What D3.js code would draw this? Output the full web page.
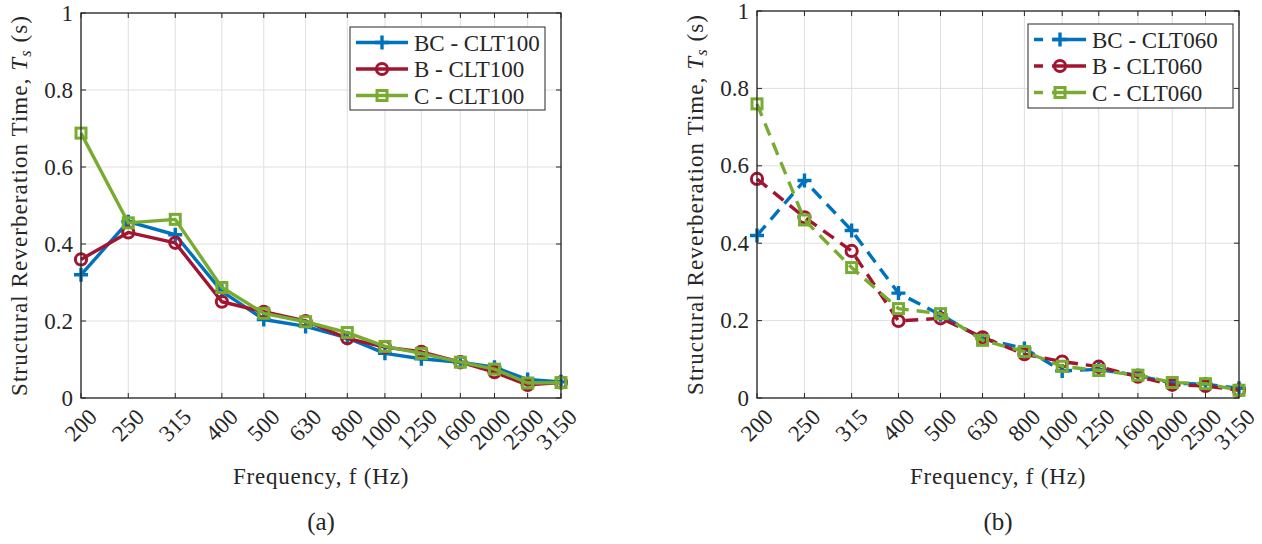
<!DOCTYPE html>
<html>
<head>
<meta charset="utf-8">
<script src="https://cdn.jsdelivr.net/npm/d3@7"></script>
<style>
  body { margin: 0; background: #fff; }
  svg text { font-family: "Liberation Serif", "Times New Roman", serif; fill: #262626; }
</style>
</head>
<body>
<svg id="chart" width="1262" height="544"></svg>
<script>
// data
var freqs = [200, 250, 315, 400, 500, 630, 800, 1000, 1250, 1600, 2000, 2500, 3150];
var freqLabels = ['200', '250', '315', '400', '500', '630', '800', '1000', '1250', '1600', '2000', '2500', '3150'];
var yTicks = [0, 0.2, 0.4, 0.6, 0.8, 1];
var yTickLabels = ['0', '0.2', '0.4', '0.6', '0.8', '1'];

var bcCLT100 = [0.32, 0.458, 0.424, 0.277, 0.204, 0.186, 0.156, 0.116, 0.102, 0.093, 0.08, 0.048, 0.042];
var bCLT100  = [0.36, 0.43, 0.403, 0.25, 0.224, 0.2, 0.155, 0.132, 0.12, 0.093, 0.067, 0.034, 0.04];
var cCLT100  = [0.688, 0.455, 0.464, 0.287, 0.22, 0.198, 0.17, 0.134, 0.116, 0.093, 0.075, 0.039, 0.04];

var bcCLT060 = [0.42, 0.562, 0.433, 0.271, 0.215, 0.153, 0.128, 0.07, 0.074, 0.058, 0.038, 0.036, 0.025];
var bCLT060  = [0.566, 0.467, 0.38, 0.199, 0.206, 0.157, 0.113, 0.094, 0.081, 0.055, 0.034, 0.031, 0.02];
var cCLT060  = [0.76, 0.46, 0.337, 0.231, 0.218, 0.149, 0.12, 0.082, 0.071, 0.059, 0.04, 0.037, 0.02];

var names100 = ['BC - CLT100', 'B - CLT100', 'C - CLT100'];
var names060 = ['BC - CLT060', 'B - CLT060', 'C - CLT060'];
var colors = ['#0072BD', '#A2142F', '#77AC30'];
var markers = ['plus', 'circle', 'square'];

var svg = d3.select('#chart');
var axisColor = '#262626';
var gridColor = '#dfdfdf';
var fs = 23;

function drawMarker(g, type, x, y, color) {
  if (type === 'plus') {
    g.append('path')
      .attr('d', 'M' + (x - 7) + ',' + y + 'H' + (x + 7) + 'M' + x + ',' + (y - 7) + 'V' + (y + 7))
      .attr('stroke', color).attr('stroke-width', 3.4).attr('fill', 'none');
  } else if (type === 'circle') {
    g.append('circle').attr('cx', x).attr('cy', y).attr('r', 5.6)
      .attr('stroke', color).attr('stroke-width', 3).attr('fill', 'none');
  } else {
    g.append('rect').attr('x', x - 5).attr('y', y - 5).attr('width', 10).attr('height', 10)
      .attr('stroke', color).attr('stroke-width', 3).attr('fill', 'none');
  }
}

function drawPanel(opts) {
  var g = svg.append('g');
  var x = d3.scaleLog().domain([Math.log(200), Math.log(3150)]).range([opts.x0, opts.x1]);
  var y = d3.scaleLinear().domain([0, 1]).range([opts.y1, opts.y0]);
  var fx = function (f) { return x(Math.log(f)); };

  // grid
  g.selectAll('.vgrid').data(freqs).join('line')
    .attr('x1', fx).attr('x2', fx).attr('y1', opts.y0).attr('y2', opts.y1)
    .attr('stroke', gridColor).attr('stroke-width', 1);
  g.selectAll('.hgrid').data(yTicks).join('line')
    .attr('y1', y).attr('y2', y).attr('x1', opts.x0).attr('x2', opts.x1)
    .attr('stroke', gridColor).attr('stroke-width', 1);

  // ticks inward on all four sides
  var tk = 5;
  freqs.forEach(function (f) {
    g.append('line').attr('x1', fx(f)).attr('x2', fx(f)).attr('y1', opts.y1).attr('y2', opts.y1 - tk)
      .attr('stroke', axisColor);
    g.append('line').attr('x1', fx(f)).attr('x2', fx(f)).attr('y1', opts.y0).attr('y2', opts.y0 + tk)
      .attr('stroke', axisColor);
  });
  yTicks.forEach(function (v) {
    g.append('line').attr('x1', opts.x0).attr('x2', opts.x0 + tk).attr('y1', y(v)).attr('y2', y(v))
      .attr('stroke', axisColor);
    g.append('line').attr('x1', opts.x1).attr('x2', opts.x1 - tk).attr('y1', y(v)).attr('y2', y(v))
      .attr('stroke', axisColor);
  });

  // series
  var line = d3.line().x(function (d) { return fx(d[0]); }).y(function (d) { return y(d[1]); });
  opts.series.forEach(function (vals, i) {
    var pts = freqs.map(function (f, k) { return [f, vals[k]]; });
    g.append('path').datum(pts).attr('d', line)
      .attr('fill', 'none').attr('stroke', colors[i]).attr('stroke-width', 3.4)
      .attr('stroke-linejoin', 'round')
      .attr('stroke-dasharray', opts.dashed ? '13,8' : null);
    pts.forEach(function (p) { drawMarker(g, markers[i], fx(p[0]), y(p[1]), colors[i]); });
  });

  // box
  g.append('rect').attr('x', opts.x0).attr('y', opts.y0)
    .attr('width', opts.x1 - opts.x0).attr('height', opts.y1 - opts.y0)
    .attr('fill', 'none').attr('stroke', axisColor).attr('stroke-width', 1.3);

  // tick labels
  g.selectAll('.ylab').data(yTicks).join('text')
    .attr('x', opts.x0 - 8).attr('y', y).attr('dy', '0.33em')
    .attr('text-anchor', 'end').attr('font-size', fs)
    .text(function (d, i) { return yTickLabels[i]; });
  g.selectAll('.xlab').data(freqs).join('text')
    .attr('transform', function (d) { return 'translate(' + (fx(d) + 6) + ',' + (opts.y1 + 9) + ') rotate(-45)'; })
    .attr('dy', '0.7em').attr('text-anchor', 'end').attr('font-size', fs)
    .text(function (d, i) { return freqLabels[i]; });

  // axis titles
  var cx = (opts.x0 + opts.x1) / 2;
  g.append('text').attr('x', cx).attr('y', opts.y1 + 86).attr('text-anchor', 'middle')
    .attr('font-size', fs).attr('letter-spacing', 0.8).text('Frequency, f (Hz)');
  var yl = g.append('text')
    .attr('transform', 'translate(' + (opts.x0 - 54) + ',' + ((opts.y0 + opts.y1) / 2) + ') rotate(-90)')
    .attr('text-anchor', 'middle').attr('font-size', fs).attr('letter-spacing', 1.1);
  yl.append('tspan').text('Structural Reverberation Time, ');
  yl.append('tspan').attr('font-style', 'italic').text('T');
  yl.append('tspan').attr('font-style', 'italic').attr('font-size', 16).attr('dy', 4).text('s');
  yl.append('tspan').attr('dy', -4).text(' (s)');
  g.append('text').attr('x', cx).attr('y', 530).attr('text-anchor', 'middle')
    .attr('font-size', 25).text(opts.caption);

  // legend
  var L = opts.legend;
  g.append('rect').attr('x', L.x).attr('y', L.y).attr('width', L.w).attr('height', L.h)
    .attr('fill', '#fff').attr('stroke', axisColor).attr('stroke-width', 1);
  opts.names.forEach(function (name, i) {
    var ry = L.y + 15.5 + i * 26.5;
    g.append('line').attr('x1', L.x + 6).attr('x2', L.x + 58).attr('y1', ry).attr('y2', ry)
      .attr('stroke', colors[i]).attr('stroke-width', 3.4)
      .attr('stroke-dasharray', opts.dashed ? '9,9,40' : null);
    drawMarker(g, markers[i], L.x + 32, ry, colors[i]);
    g.append('text').attr('x', L.x + 64).attr('y', ry).attr('dy', '0.35em')
      .attr('font-size', fs).text(name);
  });
}

drawPanel({
  x0: 81, x1: 561, y0: 13, y1: 398,
  series: [bcCLT100, bCLT100, cCLT100],
  names: names100, dashed: false, caption: '(a)',
  legend: { x: 350, y: 27, w: 195, h: 83 }
});
drawPanel({
  x0: 757, x1: 1239, y0: 11, y1: 398,
  series: [bcCLT060, bCLT060, cCLT060],
  names: names060, dashed: true, caption: '(b)',
  legend: { x: 1028, y: 24, w: 205, h: 84 }
});
</script>
</body>
</html>
